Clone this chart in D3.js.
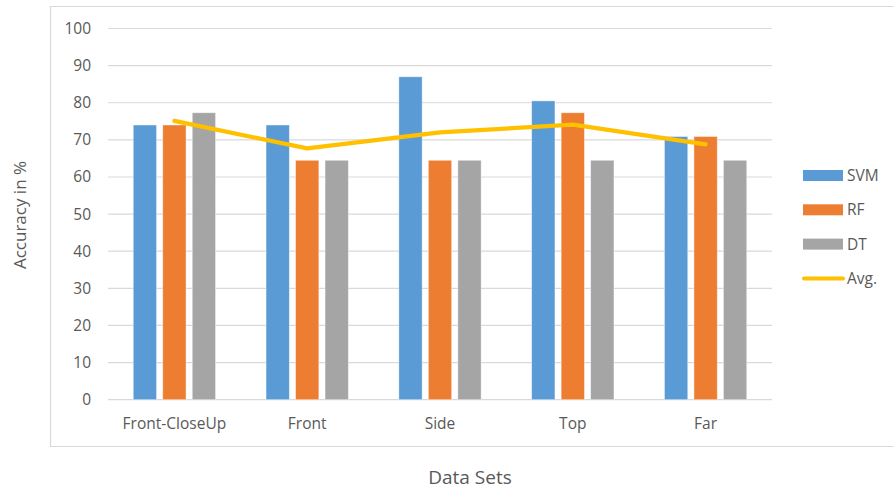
<!DOCTYPE html>
<html>
<head>
<meta charset="utf-8">
<script src="https://cdn.jsdelivr.net/npm/d3@7"></script>
<style>
  html, body { margin: 0; padding: 0; background: #fff; }
  svg text { font-family: "Open Sans", "Noto Sans", "Liberation Sans", sans-serif; fill: #595959; }
</style>
</head>
<body>
<svg id="chart" width="894" height="489"></svg>
<script>
// Classification accuracy per data set
const categories = ["Front-CloseUp", "Front", "Side", "Top", "Far"];
const seriesNames = ["SVM", "RF", "DT"];
const svmValues = [74.0, 74.0, 87.0, 80.5, 70.9];
const rfValues = [74.0, 64.5, 64.5, 77.3, 70.9];
const dtValues = [77.3, 64.5, 64.5, 64.5, 64.5];
const avgValues = [75.1, 67.7, 72.0, 74.1, 68.8];
const yTicks = [0, 10, 20, 30, 40, 50, 60, 70, 80, 90, 100];

const colors = { SVM: "#5B9BD5", RF: "#ED7D31", DT: "#A5A5A5", Avg: "#FFC000" };
const seriesValues = { SVM: svmValues, RF: rfValues, DT: dtValues };

const svg = d3.select("#chart");

// Outer chart frame (open on the right where it meets the page edge)
svg.append("path")
  .attr("d", "M893.5,6.5 H50.5 V446.5 H893.5")
  .attr("fill", "none")
  .attr("stroke", "#D9D9D9")
  .attr("stroke-width", 1.2);

const plot = { left: 108, right: 772, top: 28.5, bottom: 399.7 };

const x = d3.scaleBand().domain(categories).range([plot.left, plot.right]);
const y = d3.scaleLinear().domain([0, 100]).range([plot.bottom, plot.top]);

// Gridlines
svg.append("g")
  .selectAll("line")
  .data(yTicks)
  .join("line")
  .attr("x1", plot.left).attr("x2", plot.right)
  .attr("y1", d => y(d)).attr("y2", d => y(d))
  .attr("stroke", "#D9D9D9")
  .attr("stroke-width", 1.2);

// Y tick labels
svg.append("g")
  .selectAll("text")
  .data(yTicks)
  .join("text")
  .attr("x", 91)
  .attr("y", d => y(d))
  .attr("dy", "0.35em")
  .attr("text-anchor", "end")
  .attr("font-size", 15.5)
  .text(d => d);

// Bars
const barW = 23.3, barStep = 29.5;
const inner = d3.scaleBand().domain(seriesNames)
  .range([-barStep * 1.5, barStep * 1.5]);

seriesNames.forEach(s => {
  svg.append("g")
    .selectAll("rect")
    .data(categories.map((c, i) => ({ c, v: seriesValues[s][i] })))
    .join("rect")
    .attr("x", d => x(d.c) + x.bandwidth() / 2 + inner(s) + (inner.bandwidth() - barW) / 2)
    .attr("y", d => y(d.v))
    .attr("width", barW)
    .attr("height", d => y(0) - y(d.v))
    .attr("fill", colors[s])
    .attr("stroke", "#fff")
    .attr("stroke-opacity", 0.5)
    .attr("stroke-width", 0.8);
});

// Average line
const line = d3.line()
  .x((d, i) => x(categories[i]) + x.bandwidth() / 2)
  .y(d => y(d));
svg.append("path")
  .datum(avgValues)
  .attr("d", line)
  .attr("fill", "none")
  .attr("stroke", colors.Avg)
  .attr("stroke-width", 4.2)
  .attr("stroke-linecap", "round")
  .attr("stroke-linejoin", "round");

// X category labels
svg.append("g")
  .selectAll("text")
  .data(categories)
  .join("text")
  .attr("x", d => x(d) + x.bandwidth() / 2)
  .attr("y", 429)
  .attr("text-anchor", "middle")
  .attr("font-size", 15.5)
  .text(d => d);

// Axis titles
svg.append("text")
  .attr("x", 470).attr("y", 484)
  .attr("text-anchor", "middle")
  .attr("font-size", 19)
  .text("Data Sets");

svg.append("text")
  .attr("transform", "translate(26,215) rotate(-90)")
  .attr("text-anchor", "middle")
  .attr("font-size", 17)
  .text("Accuracy in %");

// Legend
const legendItems = ["SVM", "RF", "DT", "Avg."];
const legend = svg.append("g");
legendItems.forEach((name, i) => {
  const cy = 175.5 + i * 34.3;
  const key = name === "Avg." ? "Avg" : name;
  if (key === "Avg") {
    legend.append("line")
      .attr("x1", 804).attr("x2", 843)
      .attr("y1", cy).attr("y2", cy)
      .attr("stroke", colors.Avg)
      .attr("stroke-width", 4)
      .attr("stroke-linecap", "round");
  } else {
    legend.append("rect")
      .attr("x", 803).attr("y", cy - 5.5)
      .attr("width", 40).attr("height", 11)
      .attr("fill", colors[key]);
  }
  legend.append("text")
    .attr("x", 847).attr("y", cy)
    .attr("dy", "0.35em")
    .attr("font-size", 15.5)
    .text(name);
});
</script>
</body>
</html>
